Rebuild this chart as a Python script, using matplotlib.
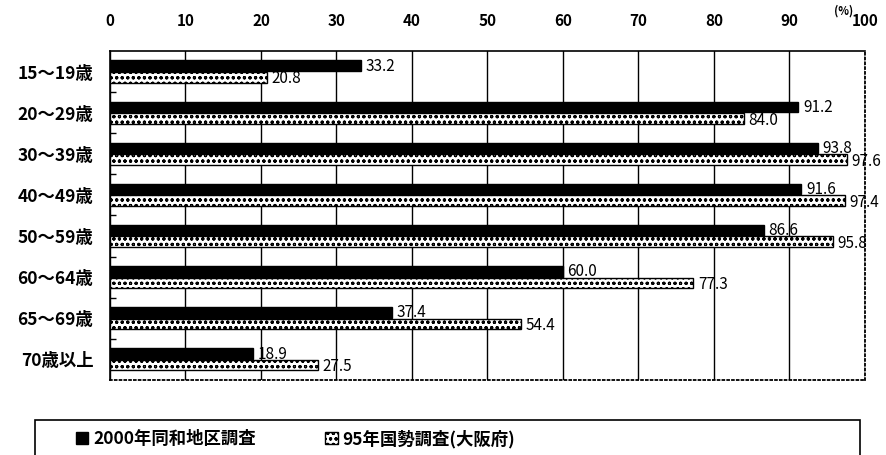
import numpy as np
import matplotlib.pyplot as plt
from matplotlib.patches import Rectangle

plt.rcParams['font.family'] = ['Noto Sans CJK JP', 'DejaVu Sans']
plt.rcParams['hatch.linewidth'] = 0.8

# 年齢階級別の就業率(%)
age_groups = ["15～19歳", "20～29歳", "30～39歳", "40～49歳",
              "50～59歳", "60～64歳", "65～69歳", "70歳以上"]
dowa_2000 = [33.2, 91.2, 93.8, 91.6, 86.6, 60.0, 37.4, 18.9]
census_95 = [20.8, 84.0, 97.6, 97.4, 95.8, 77.3, 54.4, 27.5]
label_2000 = "2000年同和地区調査"
label_95 = "95年国勢調査(大阪府)"
xticks = np.arange(0, 101, 10)

fig = plt.figure(figsize=(8.87, 4.55), dpi=100)
ax = fig.add_axes([0.124, 0.165, 0.851, 0.723])

y = np.arange(len(age_groups))
h = 0.26
b1 = ax.barh(y - h / 2 - 0.01, dowa_2000, height=h, color="black",
             edgecolor="black", label=label_2000, zorder=3)
b2 = ax.barh(y + h / 2 + 0.01, census_95, height=h, color="white",
             edgecolor="black", hatch="ooo", linewidth=1.0,
             label=label_95, zorder=3)

for yi, v in zip(y, dowa_2000):
    ax.text(v + 0.6, yi - h / 2, f"{v:.1f}", va="center", ha="left",
            fontsize=11, zorder=4)
for yi, v in zip(y, census_95):
    ax.text(v + 0.6, yi + h / 2 + 0.05, f"{v:.1f}", va="center", ha="left",
            fontsize=11, zorder=4)

ax.set_xlim(0, 100)
ax.set_ylim(len(age_groups) - 0.5, -0.5)
ax.set_xticks(xticks)
ax.xaxis.tick_top()
ax.tick_params(axis="x", length=0, pad=16, labelsize=11)
for lab in ax.get_xticklabels():
    lab.set_fontweight("bold")
ax.set_yticks(y)
ax.set_yticklabels(age_groups, fontsize=12.5, fontweight="bold")
ax.tick_params(axis="y", length=0, pad=12)
ax.set_yticks(np.arange(0.5, len(age_groups) - 0.5, 1), minor=True)
ax.tick_params(axis="y", which="minor", direction="in", length=4, width=1)

ax.grid(axis="x", color="black", linewidth=1, zorder=1)
for s in ["top", "left"]:
    ax.spines[s].set_linewidth(1.2)
for s in ["right", "bottom"]:
    ax.spines[s].set_linestyle(":")
    ax.spines[s].set_linewidth(1.3)

fig.text(0.962, 0.968, "(%)", fontsize=8, fontweight="bold", ha="right")

# 凡例の枠
fig.patches.append(Rectangle((0.039, -0.05), 0.931, 0.127, transform=fig.transFigure,
                             fill=False, edgecolor="black", linewidth=1.2))
fig.legend(handles=[b1, b2], loc="center left", bbox_to_anchor=(0.068, 0.035),
           ncol=2, frameon=False, handlelength=0.7, handleheight=0.7,
           handletextpad=0.3, columnspacing=4.0,
           prop={"weight": "bold", "size": 12.5})

fig.savefig("out.png", dpi=100)
